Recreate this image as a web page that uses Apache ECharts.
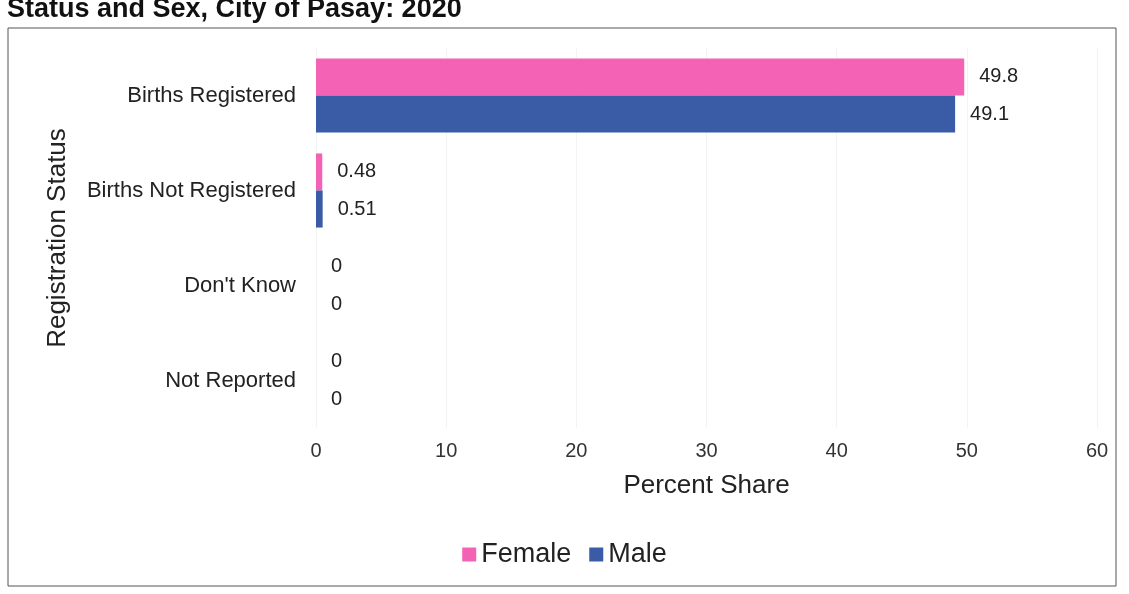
<!DOCTYPE html>
<html>
<head>
<meta charset="utf-8">
<script src="https://cdn.jsdelivr.net/npm/echarts@6/dist/echarts.min.js"></script>
<style>html,body{margin:0;padding:0;background:#fff}#c{width:1129px;height:594px}</style>
</head>
<body>
<div id="c"></div>
<script>
const categories = ["Births Registered", "Births Not Registered", "Don't Know", "Not Reported"];
const femaleValues = [49.8, 0.48, 0, 0];
const maleValues = [49.1, 0.51, 0, 0];
const xTicks = [0, 10, 20, 30, 40, 50, 60];

const FONT = "'Liberation Sans', Arial, sans-serif";
const chart = echarts.init(document.getElementById('c'));
chart.setOption({
  animation: false,
  backgroundColor: '#fff',
  title: {
    text: 'Status and Sex, City of Pasay: 2020',
    left: 2, top: -9,
    textStyle: { fontFamily: FONT, fontSize: 27, fontWeight: 'bold', color: '#111' }
  },
  graphic: [{
    type: 'rect', shape: { x: 8, y: 28, width: 1108, height: 558 },
    style: { fill: 'none', stroke: '#555', lineWidth: 1 }, z: -1
  }],
  legend: {
    bottom: 21, left: 'center', itemWidth: 14, itemHeight: 14, itemGap: 18,
    icon: 'rect',
    textStyle: { fontFamily: FONT, fontSize: 27, color: '#222' },
    data: ['Female', 'Male']
  },
  grid: { left: 316, right: 32, top: 48, bottom: 166 },
  xAxis: {
    type: 'value', min: 0, max: 60, interval: 10,
    name: 'Percent Share', nameLocation: 'middle', nameGap: 45,
    nameTextStyle: { fontFamily: FONT, fontSize: 26, color: '#222' },
    axisLine: { show: false }, axisTick: { show: false },
    axisLabel: { fontFamily: FONT, fontSize: 20, color: '#333', margin: 13,
      formatter: v => xTicks.includes(v) ? String(v) : '' },
    splitLine: { show: true, lineStyle: { color: '#f3f3f3' } }
  },
  yAxis: {
    type: 'category', data: categories, inverse: true,
    name: 'Registration Status', nameLocation: 'middle', nameGap: 245,
    nameTextStyle: { fontFamily: FONT, fontSize: 26, color: '#222' },
    axisLine: { show: false }, axisTick: { show: false },
    axisLabel: { fontFamily: FONT, fontSize: 22, color: '#222', margin: 20 }
  },
  series: [
    { name: 'Female', type: 'bar', data: femaleValues, barGap: '0%', barCategoryGap: '22%',
      itemStyle: { color: '#F462B6' },
      label: { show: true, position: 'right', distance: 15, fontFamily: FONT, fontSize: 20, color: '#222' } },
    { name: 'Male', type: 'bar', data: maleValues, barGap: '0%', barCategoryGap: '22%',
      itemStyle: { color: '#3A5BA6' },
      label: { show: true, position: 'right', distance: 15, fontFamily: FONT, fontSize: 20, color: '#222' } }
  ]
});
</script>
</body>
</html>
